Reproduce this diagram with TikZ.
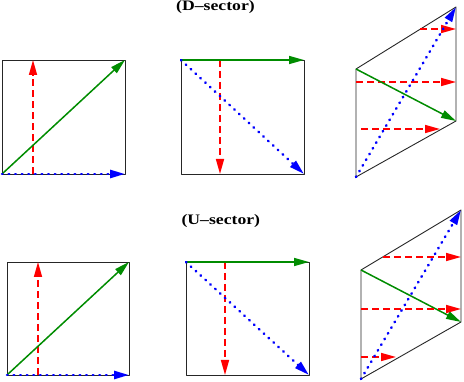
\documentclass[tikz,border=0pt]{standalone}
\usepackage{fontspec}
\setmainfont{Liberation Serif}
\usepackage{graphicx}
\usepackage{tikz}
\usetikzlibrary{arrows.meta}

\begin{document}
\begin{tikzpicture}[
  x=1pt, y=-1pt,
  frame/.style={draw=black!85, line width=0.9pt, line join=round},
  arrowtip/.style={-{Triangle[length=15pt,width=8pt]}},
  greenarr/.style={arrowtip, draw=green!55!black, line width=1.5pt},
  redarr/.style={arrowtip, draw=red, line width=1.6pt, dash pattern=on 7pt off 4pt},
  bluearr/.style={arrowtip, draw=blue, line width=2.6pt, line cap=round, dash pattern=on 0.6pt off 6pt},
  title/.style={font=\fontsize{14.5}{17}\selectfont\bfseries, anchor=base, inner sep=0pt},
]
\useasboundingbox (0,0) rectangle (464,382);

% titles
\node[title] (dsec) at (215.5,10.7) {\scalebox{1.22}[1]{(D--sector)}};
\node[title] (usec) at (220.8,225) {\scalebox{1.22}[1]{(U--sector)}};

% D-sector, square 1
\coordinate (d1sw) at (2,174);
\coordinate (d1ne) at (125,60);
\coordinate (d1se) at (125,174);
\coordinate (d1rb) at (33,174);
\coordinate (d1rt) at (33,60);
\draw[frame] (d1sw) rectangle (d1ne);
\draw[redarr] (d1rb) -- (d1rt);
\draw[greenarr] (d1sw) -- (d1ne);
\draw[bluearr] (d1sw) -- (d1se);

% D-sector, square 2
\coordinate (d2nw) at (181,60);
\coordinate (d2ne) at (304,60);
\coordinate (d2se) at (304,174);
\coordinate (d2rt) at (220,60);
\coordinate (d2rb) at (220,174);
\draw[frame] (d2nw) rectangle (d2se);
\draw[redarr] (d2rt) -- (d2rb);
\draw[greenarr] (d2nw) -- (d2ne);
\draw[bluearr] (d2nw) -- (d2se);

% D-sector, parallelogram
\coordinate (d3a) at (356,69);
\coordinate (d3b) at (456,7);
\coordinate (d3c) at (456,121);
\coordinate (d3d) at (356,177);
\coordinate (d3r1s) at (420,29);
\coordinate (d3r1e) at (456,29);
\coordinate (d3r2s) at (356,82);
\coordinate (d3r2e) at (456,82);
\coordinate (d3r3s) at (361,129);
\coordinate (d3r3e) at (440,129);
\draw[frame] (d3a) -- (d3b) -- (d3c) -- (d3d) -- cycle;
\draw[redarr] (d3r1s) -- (d3r1e);
\draw[redarr] (d3r2s) -- (d3r2e);
\draw[redarr] (d3r3s) -- (d3r3e);
\draw[greenarr] (d3a) -- (d3c);
\draw[bluearr] (d3d) -- (d3b);

% U-sector, square 1
\coordinate (u1sw) at (7,375);
\coordinate (u1ne) at (129,262);
\coordinate (u1se) at (129,375);
\coordinate (u1rb) at (38,375);
\coordinate (u1rt) at (38,262);
\draw[frame] (u1sw) rectangle (u1ne);
\draw[redarr] (u1rb) -- (u1rt);
\draw[greenarr] (u1sw) -- (u1ne);
\draw[bluearr] (u1sw) -- (u1se);

% U-sector, square 2
\coordinate (u2nw) at (186,262);
\coordinate (u2ne) at (309,262);
\coordinate (u2se) at (309,375);
\coordinate (u2rt) at (225,262);
\coordinate (u2rb) at (225,375);
\draw[frame] (u2nw) rectangle (u2se);
\draw[redarr] (u2rt) -- (u2rb);
\draw[greenarr] (u2nw) -- (u2ne);
\draw[bluearr] (u2nw) -- (u2se);

% U-sector, parallelogram
\coordinate (u3a) at (361,270);
\coordinate (u3b) at (461,210);
\coordinate (u3c) at (461,322);
\coordinate (u3d) at (361,379);
\coordinate (u3r1s) at (383,257);
\coordinate (u3r1e) at (461,257);
\coordinate (u3r2s) at (361,309);
\coordinate (u3r2e) at (461,309);
\coordinate (u3r3s) at (361,357);
\coordinate (u3r3e) at (396,357);
\draw[frame] (u3a) -- (u3b) -- (u3c) -- (u3d) -- cycle;
\draw[greenarr] (u3a) -- (u3c);
\draw[redarr] (u3r1s) -- (u3r1e);
\draw[redarr] (u3r2s) -- (u3r2e);
\draw[redarr] (u3r3s) -- (u3r3e);
\draw[bluearr] (u3d) -- (u3b);
\end{tikzpicture}
\end{document}
